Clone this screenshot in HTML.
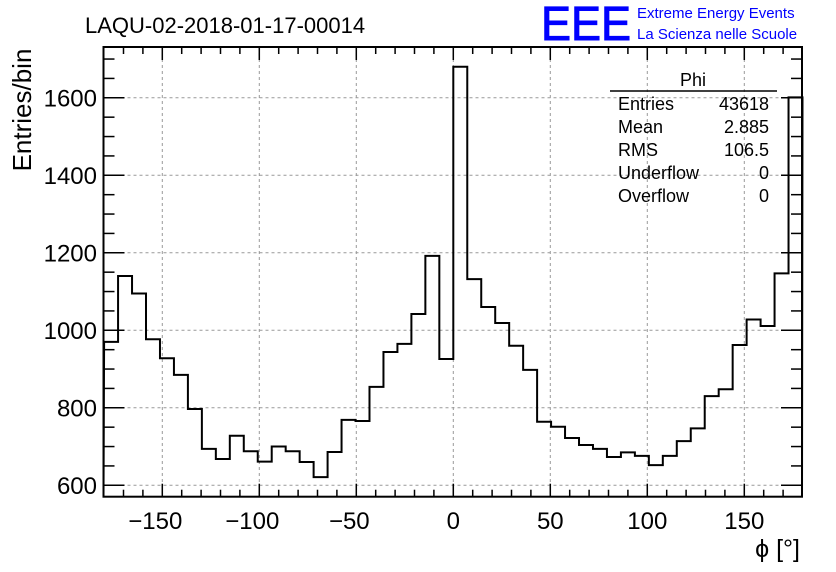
<!DOCTYPE html>
<html><head><meta charset="utf-8"><style>html,body{margin:0;padding:0;background:#fff}svg{display:block}</style></head>
<body>
<svg width="836" height="572" xmlns="http://www.w3.org/2000/svg" font-family="Liberation Sans, sans-serif">
<rect width="836" height="572" fill="#fff"/>
<g id="grid" stroke="#999" stroke-dasharray="3,3" stroke-width="1">
</g>
<g id="ticks" stroke="#000" stroke-width="1.5"></g>
<path id="hist" fill="none" stroke="#000" stroke-width="2"/>
<rect x="103.5" y="47" width="698.5" height="449.7" fill="none" stroke="#000" stroke-width="2"/>
<g id="labels" font-size="24" fill="#000"></g>
<text x="85" y="33" font-size="22">LAQU-02-2018-01-17-00014</text>
<text x="541" y="40" font-size="48" fill="#0000ff" stroke="#0000ff" stroke-width="1" textLength="90" lengthAdjust="spacingAndGlyphs">EEE</text>
<text x="637" y="18" font-size="15" fill="#0000ff">Extreme Energy Events</text>
<text x="637" y="39" font-size="15" fill="#0000ff">La Scienza nelle Scuole</text>
<text transform="translate(31,110) rotate(-90)" font-size="26" text-anchor="middle">Entries/bin</text>
<text x="800" y="557" font-size="25" text-anchor="end">ϕ [°]</text>
<g font-size="18">
<text x="693" y="86" text-anchor="middle">Phi</text>
<line x1="610" y1="91" x2="777" y2="91" stroke="#000" stroke-width="1.5"/>
<text x="618" y="110">Entries</text><text x="769" y="110" text-anchor="end">43618</text>
<text x="618" y="133">Mean</text><text x="769" y="133" text-anchor="end">2.885</text>
<text x="618" y="156">RMS</text><text x="769" y="156" text-anchor="end">106.5</text>
<text x="618" y="179">Underflow</text><text x="769" y="179" text-anchor="end">0</text>
<text x="618" y="202">Overflow</text><text x="769" y="202" text-anchor="end">0</text>
</g>
<script>
var ns="http://www.w3.org/2000/svg";
function X(v){return 453.3+v*1.94;}
function Y(v){return 485.3-(v-600)*0.3875;}
var vals=[970,1140,1095,977,928,885,797,694,668,728,688,661,700,688,660,621,686,769,766,854,944,965,1042,1192,926,1680,1132,1060,1019,960,898,764,751,722,704,694,673,685,676,652,676,714,747,830,848,962,1028,1011,1147,1601];
var d="M103.5,496.7";
for(var i=0;i<50;i++){var x0=X(-180+i*7.2),x1=X(-180+(i+1)*7.2),y=Y(vals[i]);d+=" L"+x0+","+y+" L"+x1+","+y;}
d+=" L802,496.7";
document.getElementById("hist").setAttribute("d",d);
var g=document.getElementById("grid"),t=document.getElementById("ticks"),l=document.getElementById("labels");
function ln(p,a,b,c,e){var o=document.createElementNS(ns,"line");o.setAttribute("x1",a);o.setAttribute("y1",b);o.setAttribute("x2",c);o.setAttribute("y2",e);p.appendChild(o);}
function tx(s,x,y,anc){var o=document.createElementNS(ns,"text");o.setAttribute("x",x);o.setAttribute("y",y);o.setAttribute("text-anchor",anc);o.textContent=s;l.appendChild(o);}
for(var v=-150;v<=150;v+=50){var x=X(v);ln(g,x,47,x,496.7);tx(v<0?"\u2212"+(-v):""+v,x-(v<0?7:0),529,"middle");}
for(var v=-170;v<=170;v+=10){var x=X(v),L=(v%50==0)?13:7;ln(t,x,496.7,x,496.7-L);ln(t,x,47,x,47+L);}
for(var v=600;v<=1600;v+=200){var y=Y(v);ln(g,103.5,y,802,y);tx(""+v,97,y+8.5,"end");}
for(var v=600;v<=1700;v+=50){var y=Y(v),L=(v%200==0)?21:11;ln(t,103.5,y,103.5+L,y);ln(t,802,y,802-L,y);}
</script>
</svg>
</body></html>
